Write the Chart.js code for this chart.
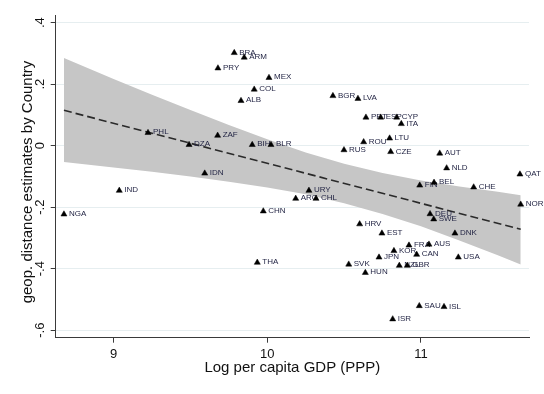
<!DOCTYPE html>
<html>
<head>
<meta charset="utf-8">
<script src="https://cdn.jsdelivr.net/npm/chart.js@4.4.1/dist/chart.umd.min.js"></script>
<style>
  html, body { margin: 0; padding: 0; background: #ffffff; }
  #wrap { width: 544px; height: 394px; }
</style>
</head>
<body>
<div id="wrap"><canvas id="c" width="544" height="394"></canvas></div>
<script>
const countries = ['BRA','ARM','PRY','MEX','COL','ALB','PHL','ZAF','DZA','BIH','BLR','IDN','IND','NGA','CHN','THA',
  'BGR','LVA','PRT','ESP','CYP','ITA','ROU','LTU','RUS','CZE','AUT','NLD','QAT','BEL','FIN','CHE','URY','ARG','CHL',
  'NOR','DEU','SWE','HRV','EST','DNK','FRA','AUS','KOR','CAN','JPN','USA','SVK','NZL','GBR','HUN','SAU','ISL','ISR'];
const logGdp = [9.785,9.850,9.679,10.011,9.915,9.829,9.224,9.677,9.491,9.902,10.024,9.593,9.037,8.677,9.974,9.935,
  10.427,10.590,10.642,10.738,10.842,10.872,10.627,10.796,10.499,10.803,11.122,11.167,11.644,11.085,10.992,11.343,10.271,10.185,10.317,
  11.649,11.059,11.083,10.601,10.746,11.221,10.922,11.052,10.824,10.972,10.727,11.243,10.530,10.859,10.911,10.638,10.989,11.150,10.816];
const distanceEst = [0.302,0.287,0.252,0.221,0.183,0.146,0.042,0.033,0.003,0.003,0.003,-0.090,-0.146,-0.223,-0.213,-0.380,
  0.162,0.153,0.092,0.092,0.092,0.071,0.012,0.024,-0.014,-0.020,-0.025,-0.073,-0.093,-0.120,-0.129,-0.135,-0.146,-0.172,-0.172,
  -0.191,-0.222,-0.239,-0.255,-0.285,-0.285,-0.324,-0.321,-0.342,-0.354,-0.363,-0.363,-0.386,-0.390,-0.390,-0.413,-0.521,-0.524,-0.564];

const fitX = [8.677, 11.649];
const fitY = [0.115, -0.272];

const bandX     = [8.677, 9.0, 9.25, 9.5, 9.75, 10.0, 10.25, 10.5, 10.75, 11.0, 11.25, 11.5, 11.649];
const bandUpper = [0.285, 0.217, 0.166, 0.116, 0.067, 0.021, -0.022, -0.059, -0.089, -0.113, -0.133, -0.150, -0.161];
const bandLower = [-0.053, -0.071, -0.085, -0.100, -0.117, -0.136, -0.158, -0.187, -0.222, -0.262, -0.308, -0.356, -0.386];

const xTicks = [9, 10, 11];
const yTicks = [-0.6, -0.4, -0.2, 0, 0.2, 0.4];
const yTickLabels = ['-.6', '-.4', '-.2', '0', '.2', '.4'];

const xTitle = 'Log per capita GDP (PPP)';
const yTitle = 'geop. distance estimates by Country';

const FONT = '"Liberation Sans", Arial, sans-serif';
const AXIS_COLOR = '#3a3a3a';
const GRID_COLOR = '#e6eef0';

const pts = logGdp.map((x, i) => ({ x: x, y: distanceEst[i] }));
const fitPts = fitX.map((x, i) => ({ x: x, y: fitY[i] }));
const upPts = bandX.map((x, i) => ({ x: x, y: bandUpper[i] }));
const loPts = bandX.map((x, i) => ({ x: x, y: bandLower[i] }));

const decor = {
  id: 'decor',
  beforeDatasetDraw(chart, args) {
    if (args.index !== 0) return;
    const ctx = chart.ctx;
    const meta = chart.getDatasetMeta(0);
    ctx.save();
    ctx.font = '8px ' + FONT;
    ctx.fillStyle = '#1e2040';
    ctx.textAlign = 'left';
    ctx.textBaseline = 'middle';
    meta.data.forEach((el, i) => {
      ctx.fillText(countries[i], el.x + 5, el.y - 0.5);
    });
    ctx.restore();
  },
  afterDraw(chart) {
    const ctx = chart.ctx;
    const ys = chart.scales.y;
    ctx.save();
    ctx.fillStyle = '#111';
    ctx.font = '13px ' + FONT;
    ctx.textAlign = 'center';
    ctx.textBaseline = 'middle';
    yTicks.forEach((v, i) => {
      const py = ys.getPixelForValue(v);
      ctx.save();
      ctx.translate(40, py);
      ctx.rotate(-Math.PI / 2);
      ctx.fillText(yTickLabels[i], 0, 0);
      ctx.restore();
    });
    ctx.font = '15px ' + FONT;
    ctx.translate(27.5, 182);
    ctx.rotate(-Math.PI / 2);
    ctx.fillText(yTitle, 0, 0);
    ctx.restore();
  }
};

new Chart(document.getElementById('c'), {
  type: 'scatter',
  data: {
    datasets: [
      {
        label: 'countries',
        data: pts,
        order: 0,
        pointStyle: 'triangle',
        pointRadius: 3.5,
        pointBackgroundColor: '#000',
        pointBorderColor: '#000',
        pointBorderWidth: 0.5,
        showLine: false
      },
      {
        label: 'fit',
        data: fitPts,
        order: 1,
        showLine: true,
        pointRadius: 0,
        borderColor: '#2a2a2a',
        borderWidth: 1.6,
        borderDash: [8, 4],
        fill: false
      },
      {
        label: 'upper',
        data: upPts,
        order: 3,
        showLine: true,
        pointRadius: 0,
        borderWidth: 0,
        borderColor: 'rgba(0,0,0,0)',
        backgroundColor: '#c6c6c6',
        fill: '+1'
      },
      {
        label: 'lower',
        data: loPts,
        order: 3,
        showLine: true,
        pointRadius: 0,
        borderWidth: 0,
        borderColor: 'rgba(0,0,0,0)',
        fill: false
      }
    ]
  },
  options: {
    responsive: false,
    animation: false,
    devicePixelRatio: 1,
    layout: { padding: { top: 15, right: 15, left: 0, bottom: 0 } },
    plugins: {
      legend: { display: false },
      tooltip: { enabled: false },
      title: { display: false }
    },
    scales: {
      x: {
        type: 'linear',
        min: 8.6233,
        max: 11.7029,
        afterBuildTicks: (s) => { s.ticks = xTicks.map(v => ({ value: v })); },
        afterFit: (s) => { s.height = 56.3; },
        grid: { drawOnChartArea: false, drawTicks: true, tickLength: 5, tickColor: AXIS_COLOR, tickWidth: 1 },
        border: { display: true, color: AXIS_COLOR, width: 1 },
        ticks: { color: '#111', font: { family: FONT, size: 13 }, padding: 4, maxRotation: 0, minRotation: 0 },
        title: { display: true, text: xTitle, color: '#111', font: { family: FONT, size: 15 }, padding: { top: 0, bottom: 17 } }
      },
      y: {
        type: 'linear',
        min: -0.6244,
        max: 0.425,
        afterBuildTicks: (s) => { s.ticks = yTicks.map(v => ({ value: v })); },
        afterFit: (s) => { s.width = 55.7; },
        grid: { drawOnChartArea: true, color: GRID_COLOR, lineWidth: 1, drawTicks: true, tickLength: 5, tickColor: AXIS_COLOR, tickWidth: 1 },
        border: { display: true, color: AXIS_COLOR, width: 1 },
        ticks: { display: false },
        title: { display: false }
      }
    }
  },
  plugins: [decor]
});
</script>
</body>
</html>
